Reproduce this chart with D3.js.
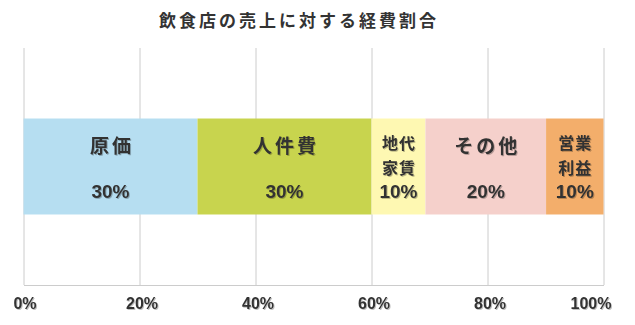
<!DOCTYPE html>
<html>
  <head>
    <meta charset="utf-8">
    <title>飲食店の売上に対する経費割合</title>
    <script src="https://d3js.org/d3.v7.min.js"></script>
    <style>
      body { margin: 0; background: #fff; }
      #chart { display: block; }
      .title { font-family: "Noto Sans CJK JP", sans-serif; font-weight: 700; font-size: 17px; fill: #333; letter-spacing: 3px; }
      .tick text { font-family: "Liberation Sans", Arial, sans-serif; font-weight: 700; font-size: 16px; fill: #333; }
      .name { font-family: "Noto Sans CJK JP", sans-serif; font-weight: 700; fill: #333; }
      .value { font-family: "Liberation Sans", Arial, sans-serif; font-weight: 700; font-size: 19px; fill: #333; }
    </style>
  </head>
  <body>
    <svg id="chart" width="635" height="325">
      <defs>
        <filter id="shadow" x="-10%" y="-10%" width="130%" height="130%">
          <feDropShadow dx="1" dy="1" stdDeviation="0.6" flood-color="#000" flood-opacity="0.25"></feDropShadow>
        </filter>
      </defs>
      <g id="axisGroup"></g>
      <g id="barGroup"></g>
      <g id="labelGroup"></g>
    </svg>
    <script>
      // data
      const categories = ["原価", "人件費", "地代家賃", "その他", "営業利益"];
      const nameLines = [["原価"], ["人件費"], ["地代", "家賃"], ["その他"], ["営業", "利益"]];
      const shares = [30, 30, 9.3, 20.8, 9.9];
      const valueLabels = ["30%", "30%", "10%", "20%", "10%"];
      const colors = ["#b6def1", "#c8d44e", "#fef8b2", "#f5d0cb", "#f3ae6b"];
      const tickValues = [0, 20, 40, 60, 80, 100];
      const title = "飲食店の売上に対する経費割合";

      const margin = { top: 48, right: 31.5, bottom: 40, left: 23.5 };
      const width = 635, height = 325;
      const chart = d3.select("#chart");

      const x = d3.scaleLinear()
        .domain([0, 100])
        .range([margin.left, width - margin.right]);
      const y = d3.scaleBand()
        .domain(["sales"])
        .range([margin.top, height - margin.bottom])
        .padding(0.4235);

      // title
      chart.append("text")
        .attr("class", "title")
        .attr("x", 299)
        .attr("y", 27)
        .attr("text-anchor", "middle")
        .text(title);

      // grid + axis
      const axis = d3.axisBottom(x)
        .tickValues(tickValues)
        .tickFormat(d => d + "%")
        .tickSizeInner(-(height - margin.bottom - margin.top))
        .tickSizeOuter(0)
        .tickPadding(10);
      const axisGroup = d3.select("#axisGroup")
        .attr("transform", "translate(0," + (height - margin.bottom) + ")")
        .call(axis);
      axisGroup.select(".domain").attr("stroke", "#ccc");
      axisGroup.selectAll(".tick line").attr("stroke", "#ccc");
      axisGroup.selectAll(".tick text")
        .attr("fill", "#333")
        .attr("dy", "0.9em")
        .attr("filter", "url(#shadow)")
        .attr("dx", (d, i) => i == tickValues.length - 1 ? "-13" : (i == 0 ? "1" : "2"));

      // stack the shares
      const row = {};
      categories.forEach((c, i) => row[c] = shares[i]);
      const series = d3.stack().keys(categories)([row]);

      d3.select("#barGroup").selectAll("rect")
        .data(series)
        .join("rect")
          .attr("x", d => x(d[0][0]))
          .attr("y", y("sales"))
          .attr("width", d => x(d[0][1]) - x(d[0][0]))
          .attr("height", y.bandwidth())
          .attr("fill", (d, i) => colors[i]);

      // labels
      const labels = d3.select("#labelGroup").selectAll("g")
        .data(series)
        .join("g")
          .attr("filter", "url(#shadow)")
          .attr("transform", d => "translate(" + (x(d[0][0]) + x(d[0][1])) / 2 + ",0)");

      labels.each(function(d, i) {
        const g = d3.select(this);
        const lines = nameLines[i];
        const narrow = lines.length > 1;
        lines.forEach((t, j) => {
          g.append("text")
            .attr("class", "name")
            .attr("text-anchor", "middle")
            .attr("y", narrow ? 149 + j * 25 : 153)
            .style("font-size", narrow ? "16px" : "19px")
            .style("letter-spacing", narrow ? "1px" : "3px")
            .attr("dx", narrow ? 0.5 : 1.5)
            .text(t);
        });
        g.append("text")
          .attr("class", "value")
          .attr("text-anchor", "middle")
          .attr("y", 197.5)
          .text(valueLabels[i]);
      });
    </script>
  </body>
</html>
